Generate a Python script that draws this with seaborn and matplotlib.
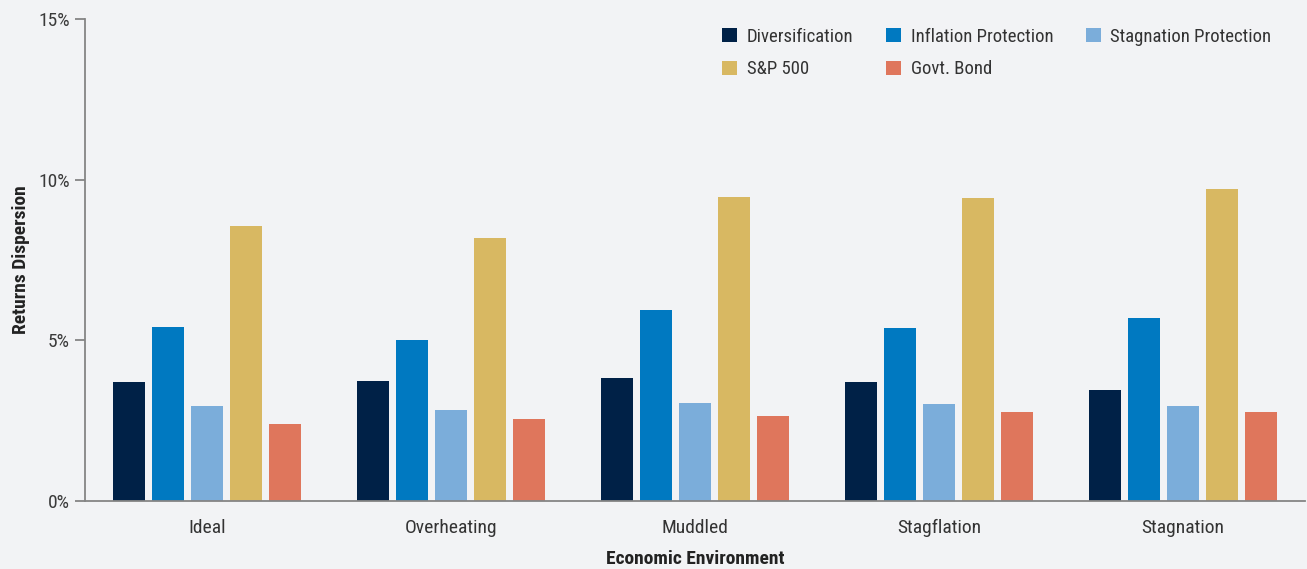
import matplotlib
matplotlib.use("Agg")
import matplotlib.pyplot as plt
import seaborn as sns
import pandas as pd
from matplotlib.patches import Patch
from matplotlib.ticker import FuncFormatter

categories = ["Ideal", "Overheating", "Muddled", "Stagflation", "Stagnation"]
series_names = ["Diversification", "Inflation Protection", "Stagnation Protection", "S&P 500", "Govt. Bond"]
diversification = [3.71, 3.74, 3.83, 3.70, 3.45]
inflation_protection = [5.43, 5.02, 5.95, 5.39, 5.70]
stagnation_protection = [2.96, 2.84, 3.05, 3.02, 2.95]
sp500 = [8.55, 8.20, 9.47, 9.44, 9.72]
govt_bond = [2.40, 2.56, 2.64, 2.77, 2.77]
y_ticks = [0, 5, 10, 15]

colors = ["#002147", "#0079c1", "#7badda", "#d8b862", "#df765c"]

values = [diversification, inflation_protection, stagnation_protection, sp500, govt_bond]
rows = []
for name, vals in zip(series_names, values):
    for cat, v in zip(categories, vals):
        rows.append({"Economic Environment": cat, "Series": name, "Value": v})
df = pd.DataFrame(rows)

sns.set_theme(style="white")
plt.rcParams["font.family"] = ["Roboto Condensed", "Archivo Narrow", "DejaVu Sans"]
plt.rcParams["font.stretch"] = "condensed"

bg = "#f2f3f5"
fig = plt.figure(figsize=(13.07, 5.69), dpi=100, facecolor=bg)
ax = fig.add_axes([0.065, 0.1195, 0.9335, 0.847])
ax.set_facecolor(bg)

sns.barplot(data=df, x="Economic Environment", y="Value", hue="Series",
            hue_order=series_names, order=categories, palette=colors,
            width=0.8, gap=0.18, ax=ax, legend=False, saturation=1, linewidth=0)

ax.set_xlim(-0.5, 4.5)
ax.set_ylim(0, 15)
ax.set_yticks(y_ticks)
ax.yaxis.set_major_formatter(FuncFormatter(lambda v, p: f"{v:.0f}%"))

spine_color = "#858585"
for s in ["top", "right"]:
    ax.spines[s].set_visible(False)
for s in ["left", "bottom"]:
    ax.spines[s].set_color(spine_color)
    ax.spines[s].set_linewidth(1.3)

fs = 14
ax.set_xticks(range(len(categories)))
ax.set_xticklabels(categories)
ax.set_xticks([i - 0.5 for i in range(len(categories) + 1)], minor=True)
ax.tick_params(axis="x", which="major", length=0, pad=13, labelsize=fs, labelcolor="#333333")
ax.tick_params(axis="x", which="minor", length=8, width=1.3, color=spine_color, direction="out")
ax.tick_params(axis="y", which="major", length=7, width=1.3, color=spine_color, direction="out",
               labelsize=fs, labelcolor="#3a3a3a", pad=4, left=True)

ax.set_xlabel("Economic Environment", fontsize=fs, fontweight="bold", color="#222222", labelpad=9)
ax.set_ylabel("Returns Dispersion", fontsize=fs, fontweight="bold", color="#222222", labelpad=6)

handles = [Patch(facecolor=c, edgecolor="none", label=n) for n, c in zip(series_names, colors)]
order = [0, 3, 1, 4, 2]
leg = ax.legend([handles[i] for i in order], [series_names[i] for i in order],
                ncol=3, loc="upper right", bbox_to_anchor=(0.9726, 0.982), frameon=False,
                fontsize=13.5, handlelength=0.8, handleheight=0.8, handletextpad=0.5,
                columnspacing=1.75, labelspacing=0.78, labelcolor="#333333",
                borderpad=0, borderaxespad=0)

fig.savefig("out.png", dpi=100, facecolor=bg)
